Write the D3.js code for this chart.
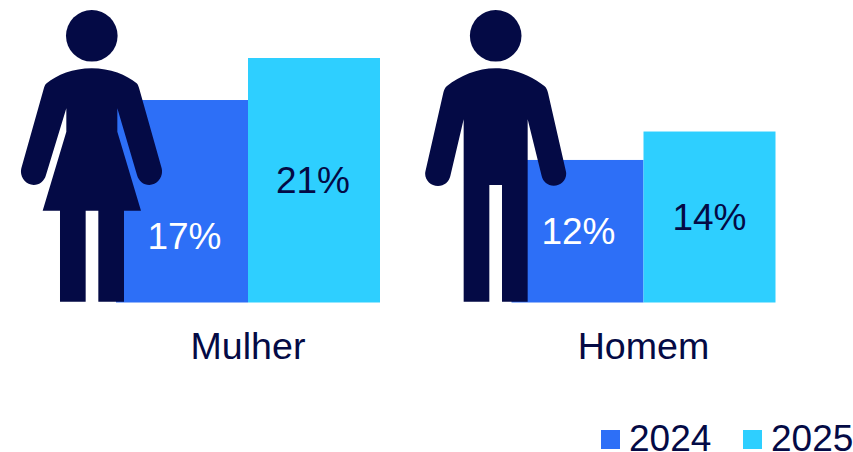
<!DOCTYPE html>
<html>
<head>
<meta charset="utf-8">
<script src="https://cdn.jsdelivr.net/npm/d3@7"></script>
<style>
body { margin: 0; background: #fff; }
svg { display: block; }
text { font-family: "Liberation Sans", Arial, sans-serif; font-size: 37px; fill: #040a45; }
.tick text { font-size: 37.6px; }
</style>
</head>
<body>
<svg></svg>
<script>
var categories = ["Mulher", "Homem"]
var years = ["2024", "2025"]
var values2024 = [17.16, 12.08]
var values2025 = [20.72, 14.49]
var yearColors = ["#2d6ff7", "#2ecfff"]
var labelColors = ["#ffffff", "#040a45"]

//icons are traced at 3x, so they get scaled down when drawn
var womanPath = "M275 205C330 205 380 225 410 250C414 254 416 260 418 267L485 505C491 530 473 555 448 555C430 555 416 543 411 525L352 325L352 395L423 632L372 632L372 905L295 905L295 632L257 632L257 905L180 905L180 632L128 632L199 395L199 325L138 525C133 543 119 555 101 555C76 555 58 530 64 505L131 267C133 260 135 254 140 250C170 225 220 205 275 205Z"
var manPath = "M257 205C312 205 365 228 403 258C409 263 412 270 414 278L468 515C472 538 454 557 431 557C413 557 399 545 395 528L353 358L353 905L276 905L276 555L238 555L238 905L161 905L161 358L121 528C117 545 103 558 84 558C61 558 42 538 46 515L100 278C102 270 105 263 111 258C149 228 202 205 257 205Z"

var screen = {width: 853, height: 452}
var svg = d3.select("svg")
    .attr("width", screen.width)
    .attr("height", screen.height)

var xscale = d3.scaleBand()
    .domain(categories)
    .range([50.25, 841.25])

var groupscale = d3.scaleBand()
    .domain(years)
    .range([65.75, 329.75])

var yscale = d3.scaleLinear()
    .domain([0, 25])
    .range([302.5, 7.5])

var series = [values2024, values2025]

//the 2024 labels are nudged away from the icons
var labelY = function(d, i, s)
{
    var mid = (yscale(d) + yscale(0)) / 2 + 13
    if (s == 0 && i == 0) {return mid + 35}
    return mid
}
var labelX = function(i, s)
{
    var mid = xscale(categories[i]) + groupscale(years[s]) + groupscale.bandwidth() / 2
    if (s == 0) {return mid + (i == 0 ? 2.5 : 1)}
    return i == 0 ? mid - 1 : mid
}

series.forEach(function(vals, s)
{
    var g = svg.append("g")

    g.selectAll("rect")
    .data(vals)
    .enter()
    .append("rect")
    .attr("x", function(d, i) {return xscale(categories[i]) + groupscale(years[s])})
    .attr("y", function(d) {return yscale(d)})
    .attr("width", groupscale.bandwidth())
    .attr("height", function(d) {return yscale(0) - yscale(d)})
    .attr("fill", yearColors[s])

    g.selectAll("text")
    .data(vals)
    .enter()
    .append("text")
    .attr("x", function(d, i) {return labelX(i, s)})
    .attr("y", function(d, i) {return labelY(d, i, s)})
    .attr("text-anchor", "middle")
    .style("fill", labelColors[s])
    .text(function(d) {return d3.format(".0f")(d) + "%"})
})

var xaxis = d3.axisBottom(xscale).tickSize(0).tickPadding(0)
var axisG = svg.append("g")
    .attr("transform", "translate(0,332)")
    .call(xaxis)
axisG.select(".domain").remove()
axisG.selectAll("text").attr("font-size", null).attr("font-family", null)

//the two people
var drawPerson = function(path, headX, dx)
{
    var g = svg.append("g").attr("fill", "#040a45")
    g.append("circle").attr("cx", headX).attr("cy", 35.8).attr("r", 25.8)
    g.append("path")
        .attr("d", path)
        .attr("transform", "translate(" + dx + ",0) scale(0.33333)")
}
drawPerson(womanPath, 91.8, 0)
drawPerson(manPath, 495.7, 410)

//legend
var legendX = d3.scaleOrdinal().domain(years).range([601, 743])
var legend = svg.selectAll(".legend")
    .data(years)
    .enter()
    .append("g")
    .attr("class", "legend")
    .attr("transform", function(d) {return "translate(" + legendX(d) + ",430)"})

legend.append("rect")
    .attr("width", 19)
    .attr("height", 19)
    .attr("fill", function(d, i) {return yearColors[i]})

legend.append("text")
    .attr("x", 28)
    .attr("y", 20.5)
    .text(function(d) {return d})
</script>
</body>
</html>
